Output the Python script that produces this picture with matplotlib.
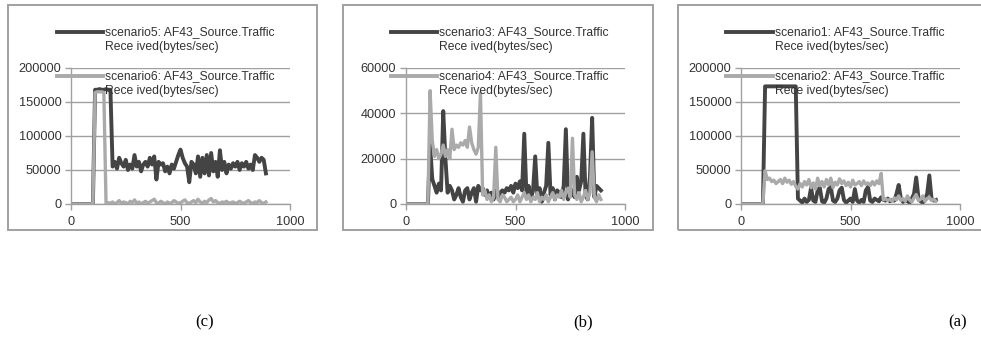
import matplotlib
matplotlib.use("Agg")
import matplotlib.pyplot as plt
from matplotlib.lines import Line2D
from matplotlib.patches import Rectangle

time = list(range(0, 900, 10))

# Panel (c)
scenario5 = [0]*11 + [168000, 168000, 169000, 168000, 168000, 169000, 168000, 168000, 55000,
    62000, 52000, 68000, 60000, 55000, 65000, 50000, 58000, 52000, 72000,
    55000, 62000, 48000, 58000, 62000, 55000, 68000, 58000, 70000, 36000,
    62000, 58000, 60000, 48000, 55000, 45000, 58000, 52000, 62000, 72000,
    80000, 68000, 60000, 55000, 32000, 62000, 58000, 45000, 70000, 40000,
    68000, 45000, 72000, 42000, 75000, 48000, 62000, 40000, 79000, 50000,
    62000, 45000, 58000, 52000, 60000, 55000, 62000, 50000, 60000, 55000,
    62000, 52000, 58000, 50000, 72000, 68000, 62000, 68000, 65000, 45000]
scenario6 = [0]*11 + [164000, 165000, 165000, 165000, 164000, 0,
    2000, 1000, 3000, 0, 2000, 5000, 1000, 3000, 2000, 0, 4000, 2000, 6000,
    1000, 3000, 0, 2000, 4000, 1000, 3000, 5000, 7000, 2000, 1000, 4000,
    2000, 0, 3000, 1000, 2000, 5000, 3000, 1000, 2000, 4000, 6000, 2000,
    1000, 3000, 5000, 2000, 7000, 3000, 1000, 4000, 2000, 6000, 8000, 3000,
    5000, 2000, 1000, 3000, 2000, 4000, 1000, 2000, 3000, 1000, 2000, 4000,
    2000, 1000, 3000, 5000, 2000, 1000, 3000, 2000, 5000, 2000, 1000, 3000]

# Panel (b)
scenario3 = [0]*11 + [26000, 11000, 8000, 5000, 9000, 6000, 41000, 20000, 5000,
    8000, 6000, 2000, 4000, 7000, 3000, 1000, 6000, 7000, 2000,
    5000, 7000, 1000, 8000, 6000, 7000, 4000, 6000, 3000, 5000,
    2000, 6000, 3000, 5000, 6000, 5000, 7000, 6000, 8000, 5000,
    9000, 7000, 10000, 6000, 31000, 4000, 8000, 2000, 6000, 21000,
    3000, 7000, 1000, 5000, 8000, 27000, 4000, 7000, 2000, 6000,
    5000, 3000, 8000, 33000, 2000, 7000, 5000, 3000, 12000, 6000,
    10000, 31000, 4000, 2000, 12000, 38000, 3000, 8000, 7000, 6000]
scenario4 = [0]*11 + [50000, 28000, 21000, 24000, 20000, 22000, 26000, 21000, 24000,
    20000, 33000, 24000, 26000, 25000, 27000, 26000, 28000, 25000, 34000,
    27000, 24000, 22000, 25000, 49000, 4000, 6000, 2000, 4000, 1000,
    3000, 25000, 2000, 1000, 4000, 3000, 1000, 2000, 3000, 1000,
    2000, 4000, 1000, 3000, 5000, 2000, 4000, 1000, 3000, 2000,
    5000, 1000, 3000, 2000, 4000, 1000, 3000, 5000, 2000, 4000,
    3000, 6000, 2000, 5000, 7000, 3000, 29000, 4000, 2000, 5000,
    1000, 3000, 6000, 2000, 5000, 23000, 3000, 1000, 4000, 2000]

# Panel (a)
scenario1 = [0]*11 + [173000]*15 + [8000,
    5000, 2000, 8000, 3000, 6000, 24000, 5000, 3000, 20000, 24000,
    4000, 2000, 8000, 22000, 25000, 5000, 3000, 8000, 20000, 24000,
    6000, 2000, 5000, 8000, 3000, 22000, 5000, 2000, 6000, 3000,
    20000, 25000, 5000, 3000, 8000, 6000, 4000, 10000, 6000, 5000,
    8000, 4000, 6000, 5000, 15000, 28000, 8000, 3000, 6000, 4000,
    2000, 8000, 15000, 39000, 10000, 4000, 2000, 6000, 15000, 42000,
    8000, 5000, 6000]
scenario2 = [0]*11 + [49000, 36000, 38000, 33000, 35000, 30000, 33000, 36000, 30000,
    38000, 32000, 35000, 29000, 33000, 26000, 22000, 30000, 25000, 33000,
    28000, 36000, 24000, 31000, 22000, 38000, 27000, 33000, 25000, 36000,
    28000, 38000, 24000, 32000, 28000, 37000, 30000, 34000, 27000, 32000,
    25000, 35000, 28000, 30000, 33000, 27000, 34000, 29000, 31000, 27000,
    33000, 28000, 34000, 30000, 45000, 6000, 8000, 5000, 7000, 4000,
    9000, 6000, 12000, 5000, 8000, 4000, 12000, 6000, 3000, 9000,
    14000, 5000, 7000, 12000, 4000, 8000, 10000, 5000, 7000, 4000]

panels = [
    ("scenario5", "scenario6", scenario5, scenario6, 200000, 50000, "(c)"),
    ("scenario3", "scenario4", scenario3, scenario4, 60000, 20000, "(b)"),
    ("scenario1", "scenario2", scenario1, scenario2, 200000, 50000, "(a)"),
]

W, H = 981, 348
fig = plt.figure(figsize=(W/100, H/100), dpi=100)
plt.rcParams['font.family'] = ['Liberation Sans', 'DejaVu Sans']

DARK = '#444444'
LIGHT = '#aaaaaa'
GRID = '#a0a0a0'

ax_left = [71, 406, 741]
frames = [(8, 317), (343, 653), (678, 990)]
leg_x = [(57, 103), (391, 437), (726, 773)]
caption_x = [205, 583, 958]

def fx(p):
    return p / W

def fy(p):
    return 1 - p / H

for k, (n1, n2, d1, d2, ymax, ystep, cap) in enumerate(panels):
    x0, x1 = frames[k]
    fig.add_artist(Rectangle((fx(x0), fy(230)), fx(x1 - x0), (230 - 5) / H,
                             transform=fig.transFigure, fill=False,
                             edgecolor='#a0a0a0', lw=1.4))
    ax = fig.add_axes([fx(ax_left[k]), fy(204), fx(219), (204 - 68) / H])
    ax.plot(time[:len(d1)], d1, color=DARK, lw=2.8, solid_joinstyle='round')
    ax.plot(time[:len(d2)], d2, color=LIGHT, lw=2.4, solid_joinstyle='round')
    ax.set_xlim(0, 1000)
    ax.set_ylim(0, ymax)
    ax.set_xticks([0, 500, 1000])
    yt = list(range(0, ymax + 1, ystep))
    ax.set_yticks(yt)
    ax.set_yticklabels([str(v) for v in yt])
    ax.yaxis.grid(True, color=GRID, lw=1.0)
    ax.set_axisbelow(True)
    for s in ['top', 'right']:
        ax.spines[s].set_visible(False)
    for s in ['left', 'bottom']:
        ax.spines[s].set_color(GRID)
        ax.spines[s].set_linewidth(1.0)
    ax.tick_params(axis='both', colors=GRID, labelcolor='#333333',
                   labelsize=9.2, length=4, width=1.0)
    ax.tick_params(axis='y', pad=3)
    ax.tick_params(axis='x', pad=5)
    ax.patch.set_visible(False)

    lx0, lx1 = leg_x[k]
    for (yy, col, name) in [(32, DARK, n1), (76, LIGHT, n2)]:
        fig.add_artist(Line2D([fx(lx0), fx(lx1)], [fy(yy), fy(yy)],
                              transform=fig.transFigure, color=col, lw=2.8))
        fig.text(fx(lx1 + 2), fy(yy), f"{name}: AF43_Source.Traffic",
                 fontsize=8.7, color='#333333', va='center', ha='left')
        fig.text(fx(lx1 + 2), fy(yy + 15), "Rece ived(bytes/sec)",
                 fontsize=8.7, color='#333333', va='center', ha='left')

    fig.text(fx(caption_x[k]), fy(322), cap, fontsize=12, ha='center',
             va='center', family='Liberation Serif', color='black')

fig.savefig("out.png", dpi=100)
